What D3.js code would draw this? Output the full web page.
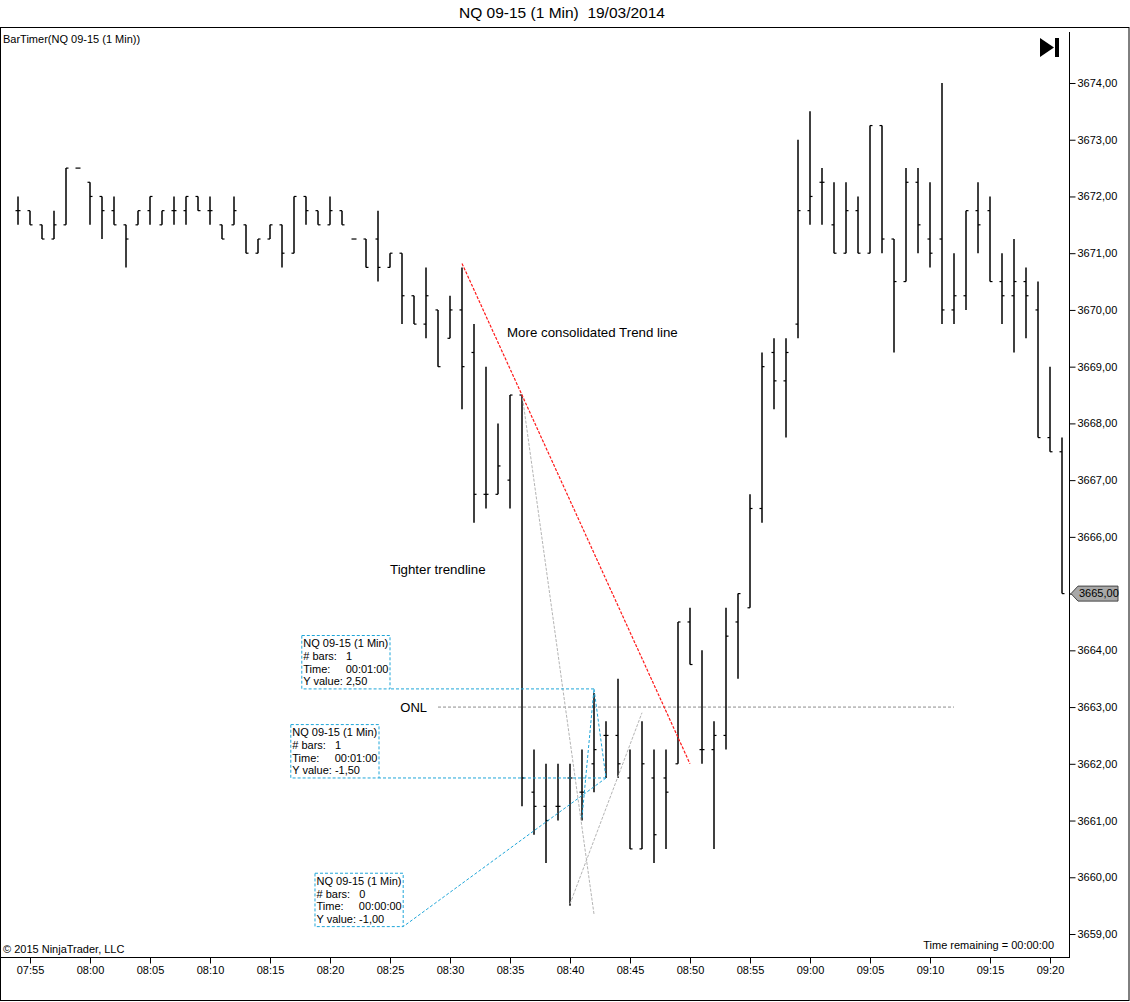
<!DOCTYPE html>
<html>
<head>
<meta charset="utf-8">
<script src="https://cdn.jsdelivr.net/npm/d3@7"></script>
<style>
body { margin: 0; background: #fff; }
svg text { font-family: "Liberation Sans", Arial, sans-serif; fill: #000; }
</style>
</head>
<body>
<svg id="chart" width="1130" height="1002"></svg>
<script>
// 1 minute bars, NQ 09-15, 07:54 - 09:21
var barTimes = ["07:54","07:55","07:56","07:57","07:58","07:59","08:00","08:01","08:02","08:03",
	"08:04","08:05","08:06","08:07","08:08","08:09","08:10","08:11","08:12","08:13",
	"08:14","08:15","08:16","08:17","08:18","08:19","08:20","08:21","08:22","08:23",
	"08:24","08:25","08:26","08:27","08:28","08:29","08:30","08:31","08:32","08:33",
	"08:34","08:35","08:36","08:37","08:38","08:39","08:40","08:41","08:42","08:43",
	"08:44","08:45","08:46","08:47","08:48","08:49","08:50","08:51","08:52","08:53",
	"08:54","08:55","08:56","08:57","08:58","08:59","09:00","09:01","09:02","09:03",
	"09:04","09:05","09:06","09:07","09:08","09:09","09:10","09:11","09:12","09:13",
	"09:14","09:15","09:16","09:17","09:18","09:19","09:20","09:21"];
var opens = [3671.75,3671.75,3671.50,3671.25,3671.50,3672.50,3672.25,3672.00,3671.75,3671.50,
	3671.50,3671.75,3671.50,3671.75,3671.75,3672.00,3671.75,3671.50,3671.50,3671.50,
	3671.00,3671.25,3671.50,3671.00,3672.00,3671.75,3671.50,3671.75,3671.25,3671.25,
	3671.25,3670.75,3671.00,3670.25,3669.75,3670.00,3669.50,3670.00,3669.25,3666.75,
	3666.75,3667.00,3668.50,3661.50,3661.25,3661.25,3661.75,3661.50,3662.00,3662.50,
	3662.50,3661.75,3660.50,3661.75,3661.75,3662.00,3664.50,3662.25,3662.25,3662.50,
	3664.50,3664.75,3666.50,3669.25,3668.75,3669.75,3671.75,3672.25,3671.50,3671.00,
	3671.75,3671.00,3673.25,3671.25,3670.50,3672.25,3671.25,3671.25,3670.00,3670.25,
	3671.75,3671.75,3670.50,3670.25,3670.50,3670.00,3667.75,3667.50];
var highs = [3672.00,3671.75,3671.50,3671.75,3672.50,3672.50,3672.25,3672.00,3672.00,3671.50,
	3671.75,3672.00,3671.75,3672.00,3672.00,3672.00,3672.00,3671.50,3672.00,3671.50,
	3671.25,3671.50,3671.50,3672.00,3672.00,3671.75,3672.00,3671.75,3671.25,3671.25,
	3671.75,3671.00,3671.00,3670.25,3670.75,3670.00,3670.25,3670.75,3669.75,3669.00,
	3668.00,3668.50,3668.50,3662.25,3662.00,3662.00,3662.00,3662.25,3663.25,3662.75,
	3663.50,3662.25,3662.75,3662.25,3662.25,3664.50,3664.75,3664.00,3662.75,3664.75,
	3665.00,3666.75,3669.25,3669.50,3669.50,3673.00,3673.50,3672.50,3672.25,3672.25,
	3672.00,3673.25,3673.25,3671.25,3672.50,3672.50,3672.25,3674.00,3671.00,3671.75,
	3672.25,3672.00,3671.00,3671.25,3670.75,3670.50,3669.00,3667.75];
var lows = [3671.50,3671.50,3671.25,3671.25,3671.50,3672.50,3671.50,3671.25,3671.50,3670.75,
	3671.50,3671.50,3671.50,3671.50,3671.50,3671.75,3671.50,3671.25,3671.50,3671.00,
	3671.00,3671.25,3670.75,3671.00,3671.50,3671.50,3671.50,3671.50,3671.25,3670.75,
	3670.50,3670.75,3669.75,3669.75,3669.50,3669.00,3669.50,3668.25,3666.25,3666.50,
	3666.75,3666.50,3661.25,3660.75,3660.25,3661.00,3659.50,3661.00,3661.50,3661.75,
	3661.75,3660.50,3660.50,3660.25,3660.50,3662.00,3663.75,3662.00,3660.50,3662.25,
	3663.50,3664.75,3666.25,3668.25,3667.75,3669.50,3671.50,3671.50,3671.00,3671.00,
	3671.00,3671.00,3671.00,3669.25,3670.50,3671.00,3670.75,3669.75,3669.75,3670.00,
	3671.00,3670.50,3669.75,3669.25,3669.50,3667.75,3667.50,3665.00];
var closes = [3671.75,3671.50,3671.25,3671.50,3672.50,3672.50,3672.00,3671.75,3671.50,3671.25,
	3671.75,3672.00,3671.75,3671.75,3672.00,3671.75,3671.75,3671.25,3671.75,3671.00,
	3671.25,3671.50,3671.00,3672.00,3671.75,3671.50,3671.75,3671.50,3671.25,3670.75,
	3670.75,3671.00,3670.25,3669.75,3670.25,3669.00,3670.00,3669.00,3666.75,3666.75,
	3667.25,3668.50,3661.75,3661.25,3661.00,3661.25,3661.75,3661.50,3662.25,3662.50,
	3662.00,3660.50,3662.00,3660.75,3661.50,3664.50,3663.75,3662.25,3662.50,3664.25,
	3665.00,3666.50,3669.00,3668.75,3669.25,3671.75,3672.00,3672.25,3671.00,3671.75,
	3671.00,3673.25,3671.25,3670.50,3672.25,3671.50,3671.00,3670.00,3670.25,3671.75,
	3671.50,3670.50,3670.25,3670.50,3670.25,3667.75,3667.50,3665.00];

var xTickLabels = ["07:55","08:00","08:05","08:10","08:15","08:20","08:25","08:30","08:35",
	"08:40","08:45","08:50","08:55","09:00","09:05","09:10","09:15","09:20"];
var yTickValues = [3659,3660,3661,3662,3663,3664,3665,3666,3667,3668,3669,3670,3671,3672,3673,3674];
var lastPrice = 3665.00;

// drawing objects, anchored in time / price
var redTrend   = [["08:31", 3670.82], ["08:50", 3662.00]];
var grayTrendA = [["08:36", 3668.52], ["08:42", 3659.35]];
var grayTrendB = [["08:40", 3659.53], ["08:46", 3662.90]];
var onlLine    = [["08:29", 3663.00], ["09:12", 3663.00]];
var rulerA     = [["08:41", 3661.05], ["08:42", 3663.32]];
var rulerB     = [["08:42", 3663.32], ["08:43", 3661.75]];
var rulerBoxAnchors = [["08:25:00", 3663.32], ["08:24:05", 3661.75], ["08:26:06", 3659.13]];
var rulerBoxTexts = [
	["NQ 09-15 (1 Min)", "# bars:   1", "Time:     00:01:00", "Y value: 2,50"],
	["NQ 09-15 (1 Min)", "# bars:   1", "Time:     00:01:00", "Y value: -1,50"],
	["NQ 09-15 (1 Min)", "# bars:   0", "Time:     00:00:00", "Y value: -1,00"]
];
var rulerBoxFrom = [["08:42", 3663.32], ["08:43", 3661.75], ["08:43", 3661.75]];
var noteTexts   = ["More consolidated Trend line", "Tighter trendline"];
var noteAnchors = [["08:34:45", 3669.61], ["08:25:00", 3665.42]];

var W = 1130, H = 1002;
var plotRight = 1069, plotTop = 32, plotBottom = 957;

function parseT(s){
	var p = s.split(":");
	return new Date(2014, 2, 19, +p[0], +p[1], p.length > 2 ? +p[2] : 0);
}

var x = d3.scaleTime()
	.domain([parseT("07:52:30"), parseT("09:21:35")])
	.range([0, plotRight]);
var y = d3.scaleLinear()
	.domain([3659, 3674])
	.range([934, 83]);

var svg = d3.select("#chart");
svg.append("rect").attr("width", W).attr("height", H).attr("fill", "#fff");

// title
svg.append("text")
	.attr("x", 562).attr("y", 13).attr("dy", "0.35em")
	.attr("text-anchor", "middle")
	.attr("xml:space", "preserve").style("white-space", "pre")
	.style("font-size", "15.5px")
	.text("NQ 09-15 (1 Min)  19/03/2014");

// outer frame
svg.append("rect")
	.attr("x", 0.5).attr("y", 27.5).attr("width", W - 1.5).attr("height", 973)
	.attr("fill", "none").attr("stroke", "#000");

// x axis
var xAxis = d3.axisBottom(x)
	.tickValues(xTickLabels.map(parseT))
	.tickFormat(d3.timeFormat("%H:%M"))
	.tickSize(6).tickPadding(3);
var gx = svg.append("g").attr("transform", "translate(0," + (plotBottom + 0.5) + ")").call(xAxis);
gx.select(".domain").remove();
gx.selectAll("text").style("font-size", "11px").style("font-family", "Liberation Sans, Arial, sans-serif").attr("fill", "#000");
gx.selectAll("line").attr("stroke", "#000");

// y axis
var priceFmt = function(v){ return d3.format(".2f")(v).replace(".", ","); };
var yAxis = d3.axisRight(y)
	.tickValues(yTickValues)
	.tickFormat(priceFmt)
	.tickSize(6).tickPadding(2);
var gy = svg.append("g").attr("transform", "translate(" + (plotRight + 0.5) + ",0)").call(yAxis);
gy.select(".domain").remove();
gy.selectAll("text").style("font-size", "11px").style("font-family", "Liberation Sans, Arial, sans-serif").attr("fill", "#000");
gy.selectAll("line").attr("stroke", "#000");

// plot borders
svg.append("line")
	.attr("x1", plotRight + 0.5).attr("x2", plotRight + 0.5)
	.attr("y1", plotTop).attr("y2", plotBottom + 1)
	.attr("stroke", "#000");
svg.append("line")
	.attr("x1", 0).attr("x2", plotRight + 1)
	.attr("y1", plotBottom + 0.5).attr("y2", plotBottom + 0.5)
	.attr("stroke", "#000");

// last price marker
var ly = y(lastPrice);
var marker = svg.append("g").attr("transform", "translate(" + (plotRight + 2) + "," + ly + ")");
marker.append("path")
	.attr("d", "M0,0 L7,-7.5 L47,-7.5 L47,7.5 L7,7.5 Z")
	.attr("fill", "#a8a8a8").attr("stroke", "#444").attr("stroke-width", 1);
marker.append("text")
	.attr("x", 8).attr("dy", "0.35em")
	.style("font-size", "11px")
	.text(priceFmt(lastPrice));

// header texts
svg.append("text")
	.attr("x", 3).attr("y", 39).attr("dy", "0.35em")
	.style("font-size", "11px")
	.text("BarTimer(NQ 09-15 (1 Min))");
svg.append("text")
	.attr("x", 3).attr("y", 949).attr("dy", "0.35em")
	.style("font-size", "11px")
	.text("\u00a9 2015 NinjaTrader, LLC");
svg.append("text")
	.attr("x", 1054).attr("y", 945).attr("dy", "0.35em")
	.attr("text-anchor", "end")
	.style("font-size", "11px")
	.text("Time remaining = 00:00:00");

// scroll to end icon
svg.append("path").attr("d", "M1040,38 L1054,47.5 L1040,57 Z").attr("fill", "#000");
svg.append("rect").attr("x", 1055).attr("y", 38).attr("width", 4).attr("height", 19).attr("fill", "#000");

// helpers for drawing objects
function pt(a){ return [x(parseT(a[0])), y(a[1])]; }
function drawLine(seg, color, dash, width){
	var p0 = pt(seg[0]), p1 = pt(seg[1]);
	return svg.append("line")
		.attr("x1", p0[0]).attr("y1", p0[1])
		.attr("x2", p1[0]).attr("y2", p1[1])
		.attr("stroke", color)
		.attr("stroke-width", width || 1)
		.attr("stroke-dasharray", dash);
}

// ONL
drawLine(onlLine, "#8c8c8c", "3,2", 1);
svg.append("text")
	.attr("x", pt(onlLine[0])[0] - 11).attr("y", y(onlLine[0][1]))
	.attr("dy", "0.35em").attr("text-anchor", "end")
	.style("font-size", "13px")
	.text("ONL");

// bars
var bars = barTimes.map(function(t, i){
	return { t: parseT(t), o: opens[i], h: highs[i], l: lows[i], c: closes[i] };
});
var gBars = svg.append("g").attr("class", "bars").attr("stroke", "#000");
var gBar = gBars.selectAll("g").data(bars).enter().append("g")
	.attr("transform", function(d){ return "translate(" + Math.round(x(d.t)) + ",0)"; });
gBar.append("line")
	.attr("x1", 0).attr("x2", 0)
	.attr("y1", function(d){ return y(d.h); })
	.attr("y2", function(d){ return y(d.l); })
	.attr("stroke-width", 1.5);
gBar.append("line")
	.attr("x1", -2.5).attr("x2", 0)
	.attr("y1", function(d){ return y(d.o); })
	.attr("y2", function(d){ return y(d.o); })
	.attr("stroke-width", 1.2);
gBar.append("line")
	.attr("x1", 0).attr("x2", 2.5)
	.attr("y1", function(d){ return y(d.c); })
	.attr("y2", function(d){ return y(d.c); })
	.attr("stroke-width", 1.2);

// trend lines
drawLine(grayTrendA, "#b4b4b4", "3,1.5", 1);
drawLine(grayTrendB, "#b4b4b4", "3,1.5", 1);
drawLine(redTrend, "#ff1a1a", "3,1.5", 1.2);

// notes
noteTexts.forEach(function(txt, i){
	var p = pt(noteAnchors[i]);
	svg.append("text")
		.attr("x", p[0]).attr("y", p[1]).attr("dy", "0.35em")
		.style("font-size", "13.3px")
		.text(txt);
});

// rulers
var rulerColor = "#1fa6d9";
drawLine(rulerA, rulerColor, "3,2", 1);
drawLine(rulerB, rulerColor, "3,2", 1);
rulerBoxTexts.forEach(function(lines, i){
	var anchor = pt(rulerBoxAnchors[i]);
	var from = pt(rulerBoxFrom[i]);
	svg.append("line")
		.attr("x1", from[0]).attr("y1", from[1])
		.attr("x2", anchor[0]).attr("y2", anchor[1])
		.attr("stroke", rulerColor).attr("stroke-dasharray", "3,2");

	var g = svg.append("g").attr("class", "ruler-box");
	var rect = g.append("rect").attr("fill", "#fff").attr("stroke", rulerColor).attr("stroke-dasharray", "3,2");
	var text = g.append("text").style("font-size", "11px").attr("xml:space", "preserve").style("white-space", "pre");
	lines.forEach(function(l, j){
		text.append("tspan").attr("x", 0).attr("y", j * 12.8).text(l);
	});
	var bb = text.node().getBBox();
	var pad = 1.5;
	rect.attr("x", bb.x - pad).attr("y", bb.y - pad)
		.attr("width", bb.width + 2 * pad).attr("height", bb.height + 2 * pad);
	var dx = anchor[0] - (bb.x + bb.width + pad);
	var dy = anchor[1] - (bb.y + bb.height + pad);
	g.attr("transform", "translate(" + dx + "," + dy + ")");
});
</script>
</body>
</html>
